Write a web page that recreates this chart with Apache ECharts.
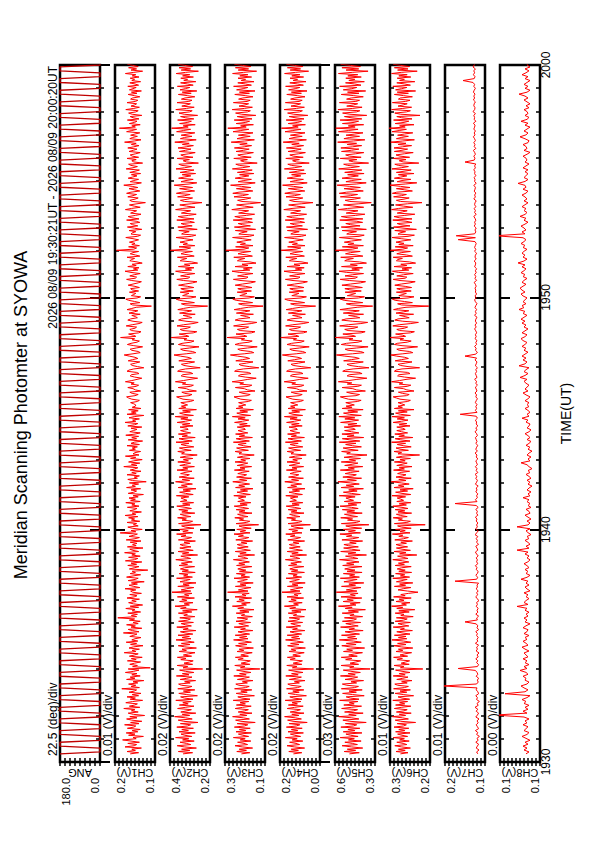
<!DOCTYPE html>
<html><head><meta charset="utf-8">
<script src="https://cdn.jsdelivr.net/npm/echarts@6/dist/echarts.min.js"></script>
<style>html,body{margin:0;padding:0;background:#fff}#c{width:595px;height:842px}</style>
</head><body><div id="c"></div>
<script>
// ---------- texts ----------
const titleText = 'Meridian Scanning Photomter at SYOWA';
const periodText = '2026 08/09 19:30:21UT - 2026 08/09 20:00:20UT';
const timeAxisName = 'TIME(UT)';
const timeLabels = ['1930', '1940', '1950', '2000'];   // at 0,10,20,30 min after 19:30
const timeTickValues = [0, 10, 20, 30];
const dataStartMin = 21 / 60;          // 19:30:21
const dataEndMin = 30 + 20 / 60;       // 20:00:20

// ---------- panels ----------
const panelNames = ['ANG', 'CH1(V)', 'CH2(V)', 'CH3(V)', 'CH4(V)', 'CH5(V)', 'CH6(V)', 'CH7(V)', 'CH8(V)'];
const divLabels = ['22.5 (deg)/div', '0.01 (V)/div', '0.02 (V)/div', '0.02 (V)/div', '0.02 (V)/div', '0.03 (V)/div', '0.01 (V)/div', '0.01 (V)/div', '0.00 (V)/div'];
// value axis ranges (ANG in deg, channels in mV)
const axisMins = [0, 100, 200, 100, 0, 300, 200, 100, 100];
const axisMaxs = [180, 200, 400, 300, 200, 600, 300, 200, 140];
const axisIntervals = [22.5, 10, 20, 20, 20, 30, 10, 10, 4];
const minLabels = ['0.0', '0.1', '0.2', '0.1', '0.0', '0.3', '0.2', '0.1', '0.1'];
const maxLabels = ['180.0', '0.2', '0.4', '0.3', '0.2', '0.6', '0.3', '0.2', '0.1'];

// ---------- data ----------
// scan angle: quick sweep, dwell at end, quick sweep back, dwell
const angDeg = [180,0,0,0,180,180,180,0,0,0,180,180,180,0,0,0,180,180,
180,0,0,0,180,180,180,0,0,0,180,180,180,0,0,0,180,180,
180,0,0,0,180,180,180,0,0,0,180,180,180,0,0,0,180,180,
180,0,0,0,180,180,180,0,0,0,180,180,180,0,0,0,180,180,
180,0,0,0,180,180,180,0,0,0,180,180,180,0,0,0,180,180,
180,0,0,0,180,180,180,0,0,0,180,180,180,0,0,0,180,180,
180,0,0,0,180,180,180,0,0,0,180,180,180,0,0,0,180,180,
180,0,0,0,180,180,180,0,0,0,180,180,180,0,0,0,180,180,
180,0,0,0,180,180,180,0,0,0,180,180,180,0,0,0,180,180,
180,0,0,0,180,180,180,0,0,0,180,180,180,0,0,0,180,180,
180,0,0,0,180,180,180,0,0,0,180,180,180,0,0,0,180,180,
180,0,0,0,180,180,180,0,0,0,180,180,180,0,0,0,180,180,
180,0,0,0,180,180,180,0,0,0,180,180,180,0,0,0,180,180,
180,0,0,0,180,180,180,0,0,0,180,180,180,0,0,0,180,180,
180,0,0,0,180,180,180,0,0,0,180,180,180,0,0,0,180,180,
180,0,0,0,180,180,180,0,0,0,180,180,180,0,0,0,180,180,
180,0,0,0,180,180,180,0,0,0,180,180,180,0,0,0,180,180,
180,0,0,0,180,180,180,0,0,0,180,180,180,0,0,0,180,180,
180,0,0,0,180,180,180,0,0,0,180,180,180,0,0,0,180,180,
180,0,0,0,180,180,180,0,0,0,180,180,180,0,0,0,180,180];

const ch1_mV = [162,141,170,149,158,134,175,152,146,168,139,160,181,147,155,129,166,150,172,143,
157,137,169,153,148,176,140,161,133,158,171,145,163,126,154,167,142,159,150,178,
138,164,151,144,173,156,131,162,149,170,141,157,135,165,152,146,183,139,160,148,
166,143,155,128,171,150,162,137,158,145,174,153,140,167,112,156,144,163,151,136,
169,147,159,132,164,152,142,177,148,157,139,165,154,130,161,146,172,143,158,150,
135,163,153,145,179,140,156,167,133,160,149,171,142,155,137,164,151,193,146,159,
144,168,136,157,150,173,141,162,131,154,166,147,158,139,170,152,145,163,134,156,
161,148,175,138,153,165,144,159,127,167,150,142,171,155,136,162,149,157,118,164,
152,140,168,146,160,133,174,151,143,166,137,158,149,176,141,155,163,130,169,147,
156,145,162,135,172,150,139,165,153,144,187,148,160,132,157,168,142,154,146,170,
138,159,151,166,143,175,148,157,134,163,152,145,169,140,158,150,173,137,161,149,
165,142,155,129,167,153,146,160,136,171,149,157,141,164,122,156,168,144,152,139,
170,147,158,135,162,151,143,178,145,159,138,166,153,132,161,148,174,140,155,150,
136,164,149,157,144,170,139,160,152,131,167,146,158,141,173,150,137,163,154,145,
160,133,168,151,143,175,148,156,139,165,152,128,170,147,159,142,166,135,157,149,
148,153,161,144,139,158,166,171,150,142,157,163,136,149,155,168,147,141,160,152,
174,158,145,133,151,162,159,140,146,170,165,153,128,144,157,161,149,138,167,156,
143,150,164,177,155,137,142,158,162,147,131,153,169,160,145,139,157,151,186,148,
154,166,141,135,159,163,150,146,172,157,140,132,155,168,161,144,149,158,137,165,
152,143,170,158,147,109,156,162,138,151,166,173,145,136,159,153,148,164,141,157,
161,139,150,167,155,142,134,158,171,149,146,163,152,137,160,175,143,154,140,168,
147,157,132,145,163,159,151,170,138,149,162,155,141,196,153,146,166,139,158,150,
164,152,141,155,173,144,136,160,157,148,165,133,151,169,143,156,162,138,147,171,
140,158,167,149,135,161,153,146,174,159,137,152,164,145,124,157,163,150,142,168,
155,146,171,160,138,151,165,143,157,178,149,134,162,153,141,167,156,145,159,136,
163,150,139,172,155,144,160,166,131,153,158,147,170,141,157,162,148,137,165,154,
145,168,153,140,159,147,176,152,135,163,156,144,161,150,138,171,158,146,189,149,
158,137,164,151,145,169,140,155,162,133,157,166,148,142,173,153,139,160,151,146,
170,149,143,161,156,138,152,167,145,159,134,164,155,147,168,141,150,163,136,158,
151,162,140,157,148,174,153,131,160,146,166,142,156,169,139,154,161,144,152,147];

const ch2_mV = [335,287,358,301,342,268,329,364,296,318,350,279,337,306,372,291,326,345,274,355,
308,341,283,366,312,297,348,260,331,359,289,322,377,302,339,271,346,315,293,362,
324,280,353,309,336,294,371,285,328,347,263,319,356,298,333,276,361,310,290,343,
357,299,327,272,349,316,290,368,305,338,281,323,352,237,335,311,364,287,330,302,
284,346,320,363,292,333,307,275,354,318,340,268,326,359,300,343,279,314,370,295,
339,303,360,286,325,348,271,334,309,366,293,322,344,283,357,312,298,351,276,331,
313,358,291,337,264,347,319,375,303,329,285,352,316,341,278,363,306,327,290,390,
296,344,317,281,361,304,335,270,350,323,299,367,288,332,310,354,274,339,308,348,
328,277,355,312,343,289,326,371,297,318,346,262,338,306,360,284,321,351,295,334,
350,301,330,273,358,315,292,345,320,367,286,336,309,353,280,324,342,246,357,304,
287,340,318,362,296,329,349,276,341,311,356,293,325,366,300,337,282,348,315,331,
345,306,368,284,322,352,298,335,270,359,314,343,288,327,372,302,339,279,354,318,
303,347,325,290,365,311,336,278,351,322,297,361,308,333,286,349,319,264,342,328,
361,294,332,353,281,319,345,305,370,289,330,355,274,340,313,358,297,326,347,309,
316,350,285,338,300,364,323,292,346,310,374,283,331,352,298,337,268,356,321,343,
312,329,346,298,281,335,352,367,305,290,326,341,268,304,318,359,297,283,338,321,
373,333,300,262,315,344,337,286,299,362,351,322,249,295,331,343,308,277,356,325,
293,310,348,380,319,271,288,334,347,302,255,324,358,340,296,280,330,316,395,306,
321,354,284,266,336,349,313,298,365,332,285,259,320,357,342,291,307,334,274,352,
317,292,361,333,299,212,325,343,278,314,353,369,296,270,337,321,305,349,284,330,
346,281,311,357,324,287,265,332,366,309,301,347,318,276,341,372,292,323,280,358,
300,328,262,291,349,338,316,363,279,306,345,327,288,398,320,297,355,276,335,313,
350,322,285,326,370,293,271,342,331,304,356,264,315,361,289,327,345,278,303,366,
280,335,359,308,269,343,320,297,372,336,275,317,351,294,240,328,348,311,287,362,
326,299,368,341,277,314,352,287,330,379,305,266,345,320,284,357,329,296,339,272,
349,313,280,370,327,292,340,356,258,318,334,303,364,285,331,346,306,274,353,322,
295,360,319,283,338,304,376,316,269,348,328,290,344,310,276,367,333,297,392,309,
334,274,352,311,293,362,281,324,347,262,329,355,302,289,371,318,279,341,315,298,
365,306,290,343,325,276,314,358,294,339,266,350,323,301,363,284,312,347,271,331,
312,346,283,337,301,369,322,258,344,297,355,287,326,360,279,320,342,293,317,304];

const ch3_mV = [218,176,241,193,229,162,214,250,187,205,237,171,224,199,258,182,211,233,168,245,
196,228,174,253,203,186,239,149,220,247,178,208,262,191,226,165,234,201,183,249,
212,169,243,198,225,181,259,175,216,236,153,207,244,189,221,166,252,197,179,231,
246,188,213,160,238,204,178,256,194,227,170,210,242,126,223,200,251,176,219,192,
173,234,209,248,183,221,196,164,240,206,229,158,215,247,190,232,168,203,257,185,
227,191,249,177,213,235,161,222,198,254,182,209,231,172,245,201,187,239,163,218,
202,244,180,226,155,236,207,263,193,217,174,241,204,230,167,250,195,214,179,287,
185,233,206,170,248,195,224,159,237,211,188,255,177,220,199,243,163,228,196,236,
216,166,242,201,231,178,212,258,186,207,235,152,226,194,249,173,209,238,184,222,
239,190,219,162,246,204,181,233,208,255,175,224,197,241,169,213,230,132,245,193,
176,228,207,251,185,218,237,165,229,200,244,182,214,254,189,225,171,236,203,219,
233,195,256,173,211,240,187,223,160,247,202,231,177,216,261,191,227,168,242,206,
192,236,214,179,253,200,225,167,239,210,186,250,197,221,175,238,208,154,230,217,
250,183,221,242,170,208,234,194,258,178,219,244,163,229,202,247,186,215,235,198,
205,239,174,227,189,252,212,181,235,199,263,172,220,241,187,226,158,245,210,232,
196,214,232,183,168,221,240,255,189,174,210,229,150,188,203,248,181,166,226,207,
264,220,186,144,199,233,224,170,183,252,241,208,131,179,219,230,193,160,246,212,
177,195,237,273,204,156,172,223,236,187,139,209,250,228,180,164,218,202,290,191,
206,245,168,150,224,238,198,182,257,221,169,141,205,249,231,175,192,222,158,243,
203,176,254,222,184,110,211,232,162,199,244,261,180,153,226,206,190,239,168,219,
236,165,196,249,213,171,148,220,258,194,185,237,204,160,229,265,176,208,164,250,
185,215,145,175,238,227,201,256,163,191,235,214,172,296,205,181,247,160,223,198,
241,209,169,211,262,178,155,231,219,189,248,147,200,253,173,213,234,162,188,259,
164,223,251,193,152,232,205,182,266,225,159,202,242,179,122,215,237,196,171,255,
212,183,261,230,161,199,243,171,218,272,190,149,234,206,168,249,216,181,227,156,
238,197,164,263,214,176,228,246,139,203,222,188,256,169,219,236,191,158,245,207,
179,253,204,167,226,189,269,201,153,240,215,174,233,195,160,260,221,181,286,194,
222,158,244,196,177,254,165,210,239,146,216,247,187,173,264,203,163,230,200,182,
258,190,174,232,211,160,199,251,178,228,150,242,209,186,257,168,197,236,155,219,
197,235,167,226,185,262,208,142,234,182,248,171,212,253,163,205,231,177,201,188];

const ch4_mV = [133,91,156,108,144,77,129,165,102,120,152,86,139,114,173,97,126,148,83,160,
111,143,89,168,118,101,154,64,135,162,93,123,177,106,141,80,149,116,98,164,
127,84,158,113,140,96,174,90,131,151,68,122,159,104,136,81,167,112,94,146,
161,103,128,75,153,119,93,171,109,142,85,125,157,32,138,115,166,91,134,107,
88,149,124,163,98,136,111,79,155,121,144,73,130,162,105,147,83,118,172,100,
142,106,164,92,128,150,76,137,113,169,97,124,146,87,160,116,102,154,78,133,
117,159,95,141,70,151,122,178,108,132,89,156,119,145,82,165,110,129,94,190,
100,148,121,85,163,110,139,74,152,126,103,170,92,135,114,158,78,143,111,151,
131,81,157,116,146,93,127,173,101,122,150,67,141,109,164,88,124,153,99,137,
154,105,134,77,161,120,97,148,125,171,90,139,112,156,84,128,145,48,160,108,
91,143,122,166,100,133,152,80,144,115,159,96,129,169,104,140,86,151,118,134,
148,110,171,88,126,155,102,138,75,162,117,146,92,131,176,107,142,83,157,121,
106,150,129,94,168,115,140,82,154,125,101,165,113,136,90,153,123,69,145,132,
164,97,135,157,86,123,149,109,173,93,134,160,78,144,118,162,101,130,150,113,
120,155,89,142,104,167,127,96,150,114,178,87,135,156,102,141,73,160,125,147,
111,129,147,98,83,136,155,170,104,89,125,144,65,103,118,163,96,81,141,122,
179,135,101,59,114,148,139,85,98,167,156,123,46,94,134,145,108,75,161,127,
92,110,152,188,119,71,87,138,151,102,54,124,165,143,95,79,133,117,196,106,
121,160,83,65,139,153,113,97,172,136,84,56,120,164,146,90,107,137,73,158,
118,91,169,137,99,22,126,147,77,114,159,176,95,68,141,121,105,154,83,134,
151,80,111,164,128,86,63,135,173,109,100,152,119,75,144,180,91,123,79,165,
100,130,60,90,153,142,116,171,78,106,150,129,87,195,120,96,162,75,138,113,
156,124,84,126,177,93,70,146,134,104,163,62,115,168,88,128,149,77,103,174,
79,138,166,108,67,147,120,97,181,140,74,117,157,94,35,130,152,111,86,170,
127,98,176,145,76,114,158,86,133,187,105,64,149,121,83,164,131,96,142,71,
153,112,79,178,129,91,143,161,54,118,137,103,171,84,134,151,106,73,160,122,
94,168,119,82,141,104,184,116,68,155,130,89,148,110,75,175,136,96,193,109,
137,73,159,111,92,169,80,125,154,61,131,162,102,88,179,118,78,145,115,97,
173,105,89,147,126,75,114,166,93,143,65,157,124,101,172,83,112,151,70,134,
112,150,82,141,100,177,123,57,149,97,163,86,127,168,78,120,146,92,116,103];

const ch5_mV = [492,418,531,445,508,392,476,547,432,470,526,404,499,455,561,427,483,518,398,538,
451,503,414,556,462,437,522,366,489,541,421,474,572,441,497,389,528,459,431,550,
478,401,534,456,493,428,565,420,485,516,381,468,543,440,495,396,552,453,424,511,
545,438,480,386,525,466,430,559,448,501,410,481,538,337,490,458,554,423,487,444,
407,520,473,553,433,497,452,394,536,469,512,378,486,549,442,515,403,462,567,435,
505,447,551,416,480,524,389,494,454,558,426,477,519,408,544,460,439,529,393,488,
457,546,424,500,372,523,471,574,443,486,411,539,463,509,399,555,448,484,427,590,
436,515,465,405,551,446,496,384,533,479,434,560,417,491,452,537,397,510,450,527,
487,398,542,458,513,420,482,566,429,469,521,364,502,444,557,412,475,535,425,498,
533,441,490,393,548,467,422,514,474,563,409,499,447,540,400,481,519,346,552,439,
413,506,468,557,431,488,529,396,511,453,545,426,477,562,437,502,405,530,461,494,
518,449,569,410,478,537,434,497,387,554,460,516,418,484,578,440,507,401,541,466,
440,524,483,419,560,455,501,392,527,471,428,553,445,493,409,532,463,360,512,485,
550,426,495,539,402,470,520,443,568,414,489,545,385,509,457,548,421,476,528,448,
464,531,408,503,436,558,479,423,526,451,571,403,492,536,430,504,389,546,472,517,
455,487,519,431,404,499,532,560,442,416,480,513,372,440,466,547,429,402,508,474,
575,497,436,361,449,509,494,397,421,542,522,464,345,425,489,510,444,388,535,477,
418,450,526,589,469,382,410,502,524,437,352,476,553,514,427,398,494,465,598,446,
472,541,404,374,502,527,457,429,565,500,406,355,470,549,517,414,444,498,386,538,
466,418,563,502,434,318,479,515,392,459,531,560,425,379,508,472,445,524,403,489,
526,395,451,548,485,409,371,493,561,448,432,525,467,386,512,570,417,474,393,551,
433,485,364,415,527,508,462,557,391,442,521,484,411,596,470,428,545,387,503,459,
530,475,402,480,567,420,381,512,492,439,546,365,460,553,412,483,519,393,437,564,
391,503,552,447,376,516,472,428,575,506,385,457,536,421,328,489,524,455,409,560,
482,431,568,513,388,454,532,410,490,584,441,366,518,474,403,547,487,425,505,382,
527,459,399,572,486,417,505,535,348,460,496,436,561,404,492,520,445,384,551,477,
421,556,468,400,509,438,580,463,376,533,490,416,517,451,390,574,500,427,594,449,
500,385,544,457,423,562,399,480,529,362,488,543,439,414,578,467,397,512,461,430,
567,444,416,513,478,388,459,553,420,506,370,538,474,437,565,405,452,521,380,496,
451,519,403,504,429,574,471,352,517,422,548,409,483,558,397,472,510,423,462,440];

const ch6_mV = [274,255,285,262,279,249,271,288,258,267,283,252,276,264,292,256,270,281,250,286,
263,278,253,290,266,259,282,236,273,287,254,269,294,261,277,247,284,265,257,289,
272,248,286,263,276,256,293,251,270,280,241,267,287,258,275,249,291,264,254,281,
288,257,271,245,283,268,255,292,262,277,250,270,286,218,274,265,290,252,272,261,
251,282,269,291,256,275,263,246,285,268,279,243,272,290,260,281,248,266,295,258,
279,260,289,250,270,283,244,274,264,292,253,269,280,249,287,266,257,284,242,273,
265,287,252,278,238,283,268,296,259,271,250,285,265,277,247,291,262,273,254,230,
256,280,267,248,289,261,276,243,284,270,257,293,251,274,263,286,246,278,262,282,
271,247,287,264,279,253,269,293,255,267,281,233,276,260,290,249,270,284,256,275,
285,259,273,244,288,266,254,278,268,294,250,275,262,286,247,271,281,212,289,258,
249,279,269,292,257,274,284,246,280,263,287,255,270,293,259,277,248,283,266,273,
282,261,295,248,270,286,256,275,242,290,265,279,252,272,297,260,278,247,285,268,
260,281,272,251,291,264,277,245,283,270,257,289,262,275,249,284,268,226,280,271,
290,254,275,285,247,267,282,261,296,250,273,287,243,278,264,288,256,271,283,262,
268,283,250,277,258,292,271,255,282,264,295,249,274,286,257,279,240,289,269,280,
263,271,280,256,249,275,284,292,259,252,269,279,240,258,266,289,257,248,277,268,
296,276,260,236,264,281,278,250,256,289,285,270,226,255,274,280,262,245,287,271,
254,263,283,298,268,243,251,277,283,259,231,270,289,282,257,247,275,266,300,261,
268,286,249,239,276,283,264,256,293,277,248,229,268,288,280,252,262,276,241,285,
267,253,291,279,260,203,271,281,244,264,287,294,255,240,278,268,259,284,247,273,
283,246,262,288,272,250,237,275,292,262,258,283,266,242,279,294,253,270,246,290,
258,273,236,251,284,281,269,292,244,259,283,272,249,299,268,256,287,242,278,265,
285,270,248,272,295,255,239,280,275,261,288,234,265,291,250,273,282,245,260,293,
245,277,290,263,238,282,269,257,296,279,243,266,286,256,220,274,284,265,252,291,
271,259,294,283,244,263,284,250,274,300,262,233,282,270,248,289,273,258,279,240,
284,265,247,295,272,254,279,288,228,267,277,260,292,251,275,285,264,242,289,270,
256,290,269,246,280,260,298,268,239,284,272,254,281,264,243,295,277,259,302,262,
276,240,287,265,253,291,245,271,283,225,273,288,259,249,296,268,246,280,267,257,
294,261,250,279,274,244,266,289,254,282,236,286,271,258,293,249,263,283,238,276,
264,282,248,278,257,296,272,232,281,255,289,251,273,292,247,270,283,256,268,261];

const ch7_mV = [118,121,115,122,119,116,123,117,120,114,121,118,124,116,119,122,117,120,115,123,
119,116,122,118,125,117,120,114,121,119,123,116,118,122,120,205,121,117,119,116,
122,118,120,124,167,119,116,121,118,123,117,120,115,122,119,121,116,124,118,120,
117,121,119,123,116,120,118,122,150,119,121,116,123,118,120,117,122,119,121,115,
120,123,118,121,117,122,119,120,116,175,121,118,123,119,117,122,120,124,118,121,
119,122,117,121,124,118,120,123,116,121,119,122,118,125,120,117,123,119,121,118,
122,120,124,118,121,119,123,117,122,175,120,124,119,121,118,123,120,122,117,124,
121,119,123,120,125,118,122,120,124,119,121,123,118,122,120,125,119,123,121,118,
123,120,122,124,119,121,125,120,123,118,122,121,124,119,122,162,120,124,121,123,
120,124,122,119,123,121,125,120,122,124,119,123,121,126,120,122,124,121,123,119,
124,122,120,125,121,150,123,119,124,122,126,121,123,120,125,122,124,121,123,126,
122,125,121,124,123,120,126,122,124,121,125,123,120,124,126,122,125,121,124,123,
125,122,124,127,121,125,123,126,122,124,121,126,124,123,127,122,125,124,121,126,
123,126,124,122,125,167,124,172,126,123,125,122,127,124,126,123,125,128,122,126,
124,127,123,126,125,122,128,124,126,123,127,125,124,128,122,126,125,127,123,126,
125,128,124,126,123,150,127,125,128,124,126,129,123,127,125,128,124,126,129,125,
127,124,128,126,125,129,123,127,126,128,124,130,126,125,128,127,124,129,126,128,
125,129,127,124,128,126,130,155,127,125,129,126,128,124,130,127,125,129,126,128];

const ch8_mV = [114,111,116,113,117,112,115,110,114,118,113,111,116,114,112,117,113,115,111,116,
145,113,117,112,115,111,116,114,118,113,110,135,115,112,116,119,113,111,115,114,
117,112,114,120,113,116,111,115,113,117,112,114,116,111,115,118,112,114,117,113,
115,111,116,113,112,117,114,110,115,113,116,112,114,111,115,113,123,112,116,114,
111,114,112,116,110,113,115,111,114,112,119,113,110,114,112,115,111,113,116,112,
110,113,111,115,112,123,111,114,110,112,115,111,113,109,112,114,110,123,112,110,
113,109,112,115,110,111,114,109,112,110,113,111,117,110,112,109,113,111,108,112,
110,113,109,111,114,110,112,108,111,113,119,110,112,109,113,111,108,112,110,114,
111,109,113,110,112,115,111,109,113,111,110,114,112,118,111,113,110,112,115,111,
113,111,115,112,110,114,117,112,115,113,111,114,116,113,120,115,112,116,114,111,
121,115,113,117,114,118,115,112,116,114,118,115,113,117,119,115,113,118,115,112,
116,114,118,115,119,116,113,117,115,121,116,118,114,117,115,113,117,119,115,118,
120,117,114,118,116,113,117,115,119,116,114,118,115,122,116,113,117,115,118,116,
113,117,115,119,116,114,117,145,115,118,114,116,119,115,112,116,114,120,115,113,
116,114,118,115,112,116,113,115,118,114,112,117,114,115,122,115,112,116,114,112,
115,112,117,114,111,115,113,114,117,113,110,116,113,114,117,112,111,115,120,114,
112,116,113,110,115,112,119,113,111,115,112,113,116,111,114,110,113,116,112,115,
121,113,110,115,112,116,113,110,115,112,118,114,111,115,110,113,112,116,112,114];

const panelData = [angDeg, ch1_mV, ch2_mV, ch3_mV, ch4_mV, ch5_mV, ch6_mV, ch7_mV, ch8_mV];

// ---------- layout (not data) ----------
const FONT = 'Liberation Sans';
const panelLefts = [60, 115, 170, 225, 280, 335, 390, 445, 500];
const panelTop = 65, panelHeight = 697, panelWidth = 40;
const lineColors = ['#c00000', '#ff0000', '#ff0000', '#ff0000', '#ff0000', '#ff0000', '#ff0000', '#ff0000', '#ff0000'];
const lineWidths = [1.3, 1, 1, 1, 1, 1, 1, 1, 1];

function toPoints(values) {
  const n = values.length;
  return values.map((v, k) => [v, dataStartMin + k * (dataEndMin - dataStartMin) / (n - 1)]);
}
function near(a, b) { return Math.abs(a - b) < 1e-6; }

const grids = [], xAxes = [], yAxes = [], series = [];
panelLefts.forEach((left, i) => {
  grids.push({ left: left, top: panelTop, width: panelWidth, height: panelHeight,
    show: true, borderColor: '#000', borderWidth: 2.5, backgroundColor: 'transparent' });
  const common = { gridIndex: i, type: 'value', inverse: true, min: axisMins[i], max: axisMaxs[i],
    interval: axisIntervals[i], axisLine: { show: false }, splitLine: { show: false },
    axisTick: { show: true, inside: true, length: 4, lineStyle: { color: '#000', width: 1.5 } } };
  xAxes.push(Object.assign({}, common, {
    position: 'bottom',
    axisLabel: { show: true, rotate: 90, margin: 16, fontSize: 11, color: '#000', fontFamily: FONT,
      showMinLabel: true, showMaxLabel: true,
      verticalAlignMinLabel: 'bottom', verticalAlignMaxLabel: 'top',
      formatter: v => near(v, axisMins[i]) ? minLabels[i] : (near(v, axisMaxs[i]) ? maxLabels[i] : '') },
    name: panelNames[i], nameLocation: 'middle', nameGap: 5, nameRotate: 180, nameMoveOverlap: false,
    nameTextStyle: { fontSize: 11, color: '#000', fontFamily: FONT }
  }));
  xAxes.push(Object.assign({}, common, { position: 'top', axisLabel: { show: false } }));
  const yCommon = { gridIndex: i, type: 'value', min: 0, max: 30, interval: 10,
    axisLine: { show: false }, splitLine: { show: false }, minorSplitLine: { show: false },
    axisTick: { show: true, inside: true, length: 10, lineStyle: { color: '#000', width: 2 } },
    minorTick: { show: true, splitNumber: 10, length: 4, lineStyle: { color: '#000', width: 1.5 } },
    axisLabel: { show: false } };
  yAxes.push(Object.assign({}, yCommon, { position: 'left' }));
  const last = i === panelLefts.length - 1;
  yAxes.push(Object.assign({}, yCommon, { position: 'right',
    axisLabel: { show: last, rotate: 90, margin: 0, fontSize: 12, color: '#000', fontFamily: FONT,
      formatter: v => { const j = timeTickValues.findIndex(t => near(t, v)); return j >= 0 ? timeLabels[j] : ''; } },
    name: last ? timeAxisName : '', nameLocation: 'middle', nameGap: 19, nameRotate: 90, nameMoveOverlap: false,
    nameTextStyle: { fontSize: 14, color: '#000', fontFamily: FONT } }));
  series.push({ type: 'line', xAxisIndex: 2 * i, yAxisIndex: 2 * i, data: toPoints(panelData[i]),
    showSymbol: false, symbol: 'none', clip: true, animation: false,
    lineStyle: { color: lineColors[i], width: lineWidths[i] } });
});

const graphics = [
  { type: 'text', x: 21, y: 415, rotation: Math.PI / 2,
    style: { text: titleText, fontSize: 18, fontFamily: FONT, fill: '#000', align: 'center', verticalAlign: 'middle' } },
  { type: 'text', x: 53, y: 66, rotation: Math.PI / 2,
    style: { text: periodText, fontSize: 12, fontFamily: FONT, fill: '#000', align: 'right', verticalAlign: 'middle' } }
].concat(divLabels.map((t, i) => ({ type: 'text', x: panelLefts[i] - 7, y: 756, rotation: Math.PI / 2,
    style: { text: t, fontSize: 12, fontFamily: FONT, fill: '#000', align: 'left', verticalAlign: 'middle' } })));

const chart = echarts.init(document.getElementById('c'), null, { renderer: 'svg' });
chart.setOption({
  animation: false,
  backgroundColor: '#fff',
  grid: grids, xAxis: xAxes, yAxis: yAxes, series: series,
  graphic: graphics
});
</script></body></html>
